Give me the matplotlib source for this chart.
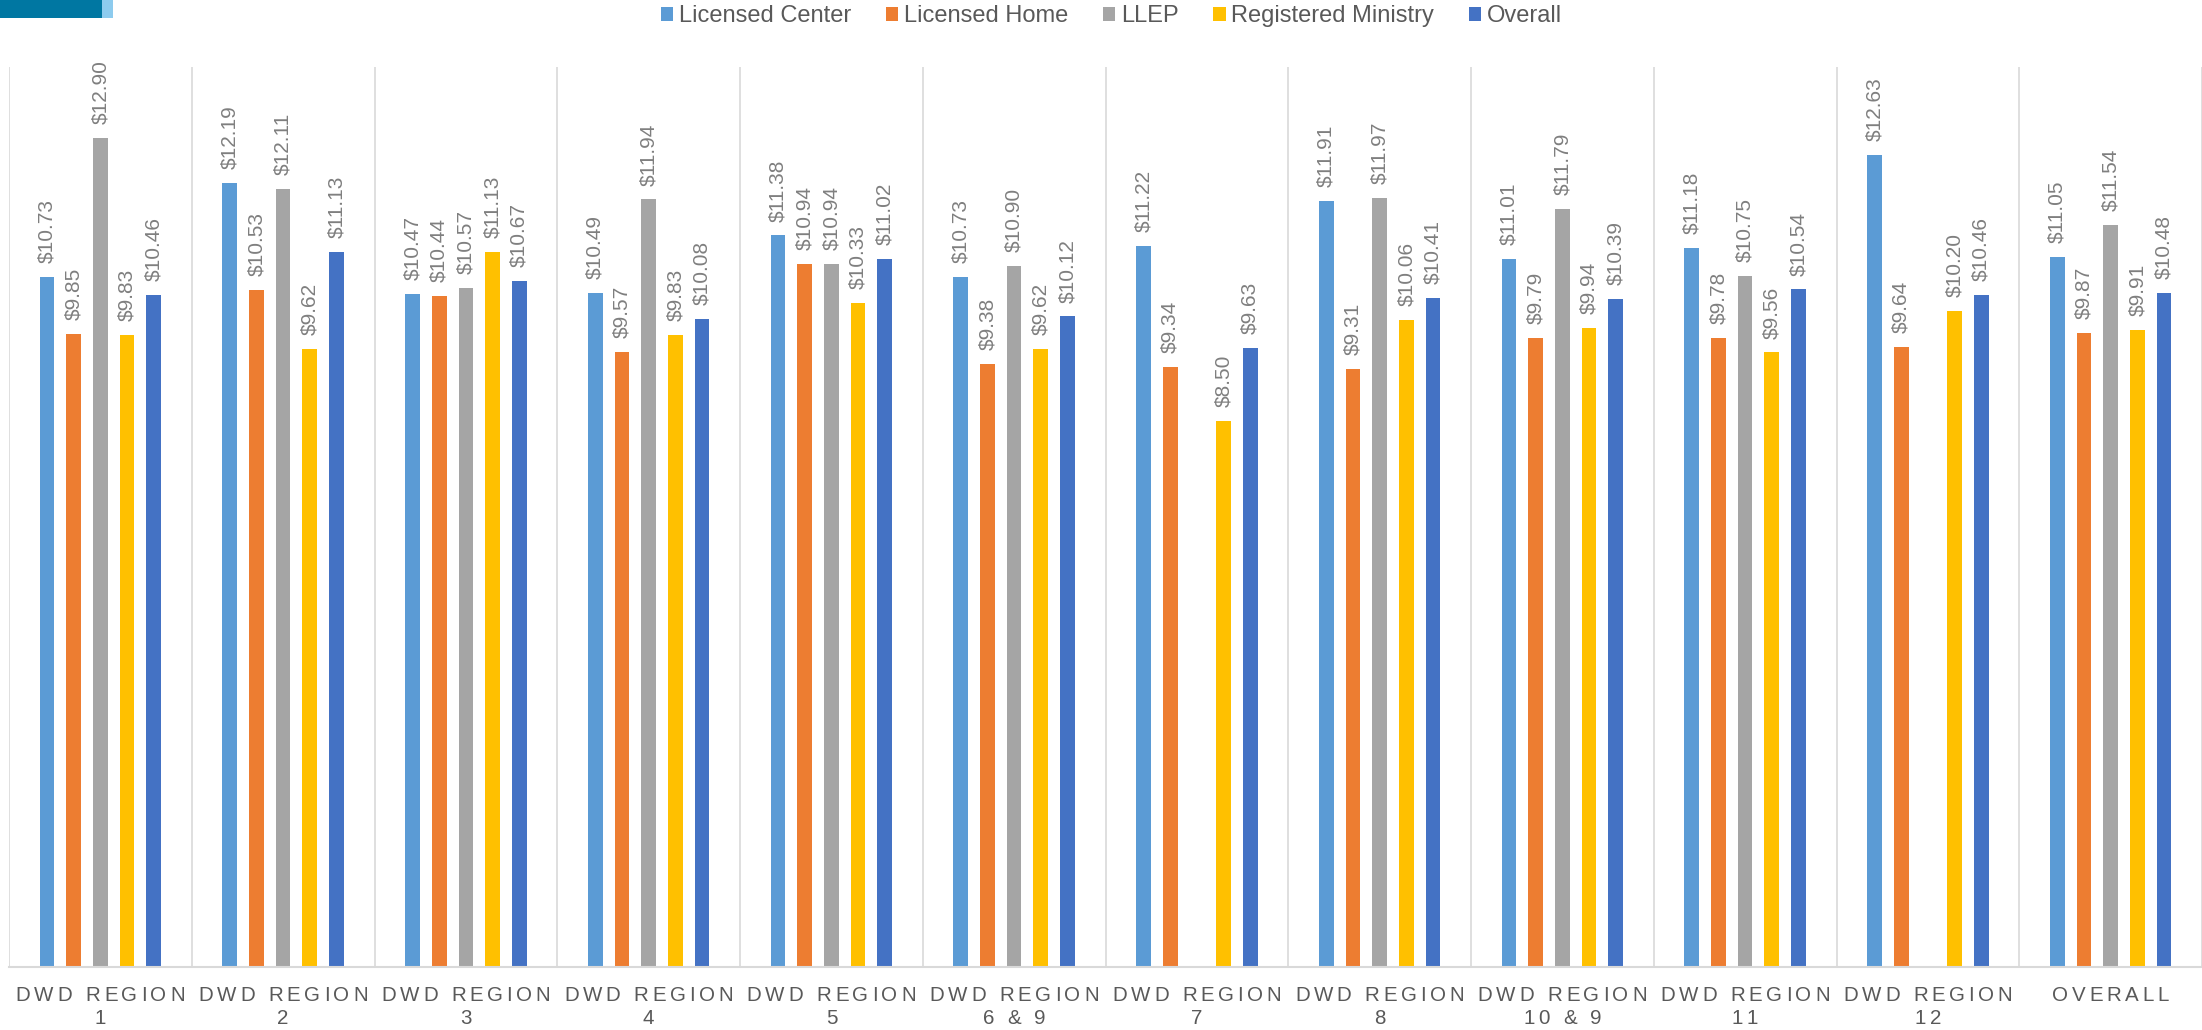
import numpy as np
import matplotlib
matplotlib.use("Agg")
import matplotlib.pyplot as plt
from matplotlib.patches import Rectangle, Patch
from matplotlib import font_manager
from matplotlib.font_manager import FontProperties, get_font
from matplotlib.ft2font import LoadFlags

# ---- data -------------------------------------------------------------
regions_top = ["DWD REGION"] * 11 + ["OVERALL"]
regions_sub = ["1", "2", "3", "4", "5", "6 & 9", "7", "8", "10 & 9", "11", "12", ""]

series_names = ["Licensed Center", "Licensed Home", "LLEP", "Registered Ministry", "Overall"]
licensed_center = [10.73, 12.19, 10.47, 10.49, 11.38, 10.73, 11.22, 11.91, 11.01, 11.18, 12.63, 11.05]
licensed_home = [9.85, 10.53, 10.44, 9.57, 10.94, 9.38, 9.34, 9.31, 9.79, 9.78, 9.64, 9.87]
llep = [12.90, 12.11, 10.57, 11.94, 10.94, 10.90, np.nan, 11.97, 11.79, 10.75, np.nan, 11.54]
registered_ministry = [9.83, 9.62, 11.13, 9.83, 10.33, 9.62, 8.50, 10.06, 9.94, 9.56, 10.20, 9.91]
overall = [10.46, 11.13, 10.67, 10.08, 11.02, 10.12, 9.63, 10.41, 10.39, 10.54, 10.46, 10.48]

series_values = [licensed_center, licensed_home, llep, registered_ministry, overall]
series_colors = ["#5B9BD5", "#ED7D31", "#A5A5A5", "#FFC000", "#4472C4"]


# ---- font: regular (non-narrow) Liberation Sans -------------------------
def regular_font_path(name="Liberation Sans"):
    cands = [f for f in font_manager.fontManager.ttflist
             if f.name == name and f.style == "normal"
             and f.weight in (400, "normal", "regular")
             and "narrow" not in f.fname.lower()]
    cands.sort(key=lambda f: len(f.fname))
    if cands:
        return cands[0].fname
    return font_manager.findfont(FontProperties(family=name))


FONT_PATH = regular_font_path()


def fp(size):
    return FontProperties(fname=FONT_PATH, size=size)


W, H = 2202, 1030
fig = plt.figure(figsize=(W / 100, H / 100), dpi=100)
ax = fig.add_axes([9 / W, (H - 967) / H, 2193 / W, 900 / H])

n = len(regions_top)
x = np.arange(n)
offsets = np.array([-2, -1, 0, 1, 2]) * 0.146
bar_w = 0.08

for vals, col, off in zip(series_values, series_colors, offsets):
    v = np.asarray(vals, dtype=float)
    ax.bar(x + off, v, width=bar_w, color=col, zorder=3)
    for xi, vi in zip(x + off, v):
        if np.isnan(vi):
            continue
        ax.annotate(f"${vi:.2f}", xy=(xi, vi), xytext=(0, 10),
                    textcoords="offset points", rotation=90,
                    ha="center", va="bottom", fontproperties=fp(15),
                    color="#7F7F7F")

ax.set_xlim(-0.5, n - 0.5)
ax.set_ylim(0, 14)
ax.set_xticks([])
ax.set_yticks([])
for s in ["top", "right", "left"]:
    ax.spines[s].set_visible(False)
ax.spines["bottom"].set_color("#D9D9D9")
ax.spines["bottom"].set_linewidth(1.5)
ax.spines["bottom"].set_zorder(4)

# group separators
for k in range(n + 1):
    ax.axvline(k - 0.5, color="#D9D9D9", lw=1.2, zorder=1)

# ---- letter-spaced category labels ------------------------------------
LABEL_FS = 14.8
TRACK = 2.7  # extra spacing between characters, points
_font = get_font(FONT_PATH)
_font.set_size(LABEL_FS, 72)


def advance(c):
    g = _font.load_char(ord(c), flags=LoadFlags.NO_HINTING)
    return g.linearHoriAdvance / 65536


def spaced_text(s, xc, y_pt):
    widths = [advance(c) for c in s]
    total = sum(widths) + TRACK * (len(s) - 1)
    pos = -total / 2
    for c, w in zip(s, widths):
        if c != " ":
            ax.annotate(c, xy=(xc, 0), xycoords=("data", "axes fraction"),
                        xytext=(pos, y_pt), textcoords="offset points",
                        ha="left", va="baseline", fontproperties=fp(LABEL_FS),
                        color="#595959", annotation_clip=False)
        pos += w + TRACK


for xi, top, sub in zip(x, regions_top, regions_sub):
    spaced_text(top, xi, -24.3)
    if sub:
        spaced_text(sub, xi, -41.0)

# ---- legend -----------------------------------------------------------
handles = [Patch(facecolor=c, edgecolor="none") for c in series_colors]
fig.legend(handles, series_names, loc="center", bbox_to_anchor=(1111.5 / W, 1 - 16 / H),
           ncol=5, frameon=False, prop=fp(17), labelcolor="#595959",
           handlelength=0.51, handleheight=0.55, handletextpad=0.25,
           columnspacing=1.48, borderpad=0, borderaxespad=0)

# ---- corner accent ----------------------------------------------------
fig.add_artist(Rectangle((0, 1 - 17.5 / H), 102 / W, 17.5 / H, transform=fig.transFigure,
                         facecolor="#0077A2", edgecolor="none"))
fig.add_artist(Rectangle((102 / W, 1 - 17.5 / H), 11 / W, 17.5 / H, transform=fig.transFigure,
                         facecolor="#8DCBEE", edgecolor="none"))

fig.savefig("out.png", dpi=100, facecolor="white")
